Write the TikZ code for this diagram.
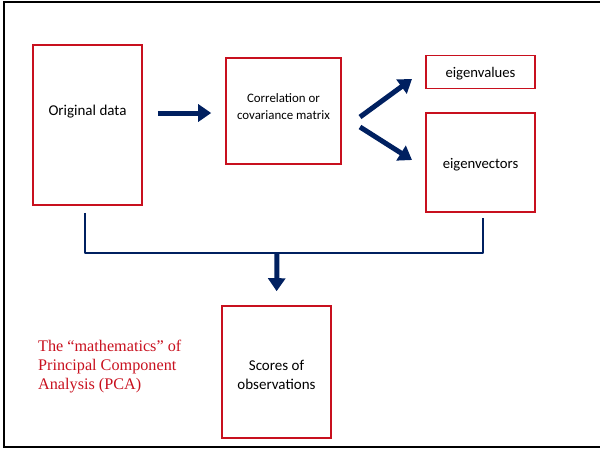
\documentclass[tikz,border=0pt]{standalone}
\usepackage{fontspec}
\setmainfont{Carlito}
\newfontfamily\redserif{Liberation Serif}
\usetikzlibrary{arrows.meta}
\definecolor{boxred}{RGB}{200,16,30}
\definecolor{navy}{RGB}{0,32,96}
\tikzset{
  box/.style={draw=boxred, line width=1.6pt, inner sep=0pt},
  boxtext/.style={inner sep=0pt, align=center, font=\fontsize{15}{19}\selectfont},
  bigarrow/.style={draw=navy, line width=5pt, -{Triangle[length=13pt,width=17pt]}},
  bracketline/.style={draw=navy, line width=2pt}
}
\begin{document}
\begin{tikzpicture}[x=1pt,y=-1pt]
\useasboundingbox (0,0) rectangle (600,450);
% frame
\draw[line width=2pt] (600,2) -- (4,2) -- (4,447) -- (600,447);
% boxes
\node[box, minimum width=109pt, minimum height=160pt,
  label={[boxtext, yshift=13pt]center:Original data}] (orig) at (87.5,125) {};
\node[box, minimum width=115pt, minimum height=106pt,
  label={[boxtext, font=\fontsize{12.9}{17}\selectfont, yshift=4pt]center:{Correlation or\\covariance matrix}}] (corr) at (283.5,111) {};
\node[box, minimum width=109pt, minimum height=33pt,
  label={[boxtext, font=\fontsize{14.7}{19}\selectfont, yshift=-1.5pt]center:eigenvalues}] (evals) at (480.5,72) {};
\node[box, minimum width=109pt, minimum height=99pt,
  label={[boxtext, font=\fontsize{14.7}{19}\selectfont, yshift=-2pt]center:eigenvectors}] (evecs) at (480.5,162.5) {};
\node[box, minimum width=109pt, minimum height=132pt,
  label={[boxtext, yshift=-3pt]center:{Scores of\\observations}}] (scores) at (276.5,372) {};
% label
\node[anchor=north west, inner sep=0pt, align=left, text=boxred, font=\redserif\fontsize{16.2}{19}\selectfont] (title) at (38,340) {The “mathematics” of\\Principal Component\\Analysis (PCA)};
% arrows
\draw[bigarrow, shorten <=15pt, shorten >=14pt] (orig.east |- 0,113) -- (corr.west |- 0,113);
\coordinate (d1s) at (360,117);
\coordinate (d1e) at (412,79);
\coordinate (d2s) at (360,127);
\coordinate (d2e) at (412,160);
\draw[bigarrow] (d1s) -- (d1e);
\draw[bigarrow] (d2s) -- (d2e);
% bracket
\coordinate (bl) at ([yshift=-7pt]orig.south -| 85,0);
\coordinate (br) at ([yshift=-5pt]evecs.south -| 483,0);
\coordinate (join) at (277,253);
\draw[bracketline, line join=round] (bl) |- (join) -| (br);
\draw[bigarrow, shorten >=14pt] (join) -- (scores.north);
\end{tikzpicture}
\end{document}
